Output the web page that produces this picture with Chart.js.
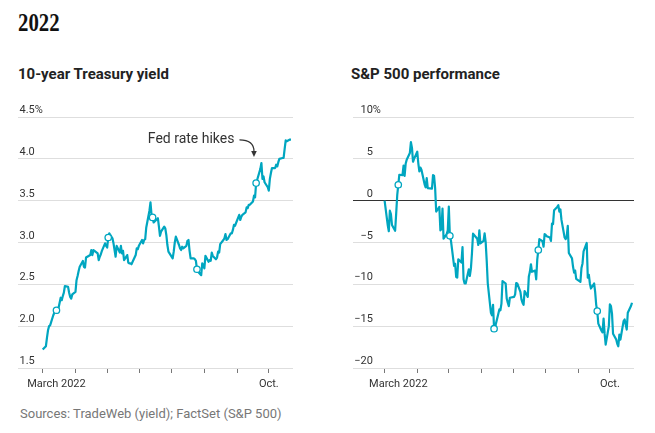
<!DOCTYPE html>
<html>
<head>
<meta charset="utf-8">
<script src="https://cdn.jsdelivr.net/npm/chart.js@4.4.1/dist/chart.umd.min.js"></script>
<style>
  html, body { margin: 0; padding: 0; background: #fff; }
  body { width: 655px; height: 433px; position: relative; overflow: hidden; font-family: Roboto, sans-serif; }
  .year { position: absolute; left: 18px; top: 10px; font: bold 26px "Liberation Serif", serif; line-height: 26px;
          color: #111; transform: scaleX(0.8); transform-origin: left top; }
  .sub { position: absolute; top: 67.4px; font: bold 15px Roboto, sans-serif; line-height: 15px; color: #222; }
  .src { position: absolute; left: 20px; top: 407.4px; font: 13px Roboto, sans-serif; line-height: 13px; color: #777; }
  canvas { position: absolute; }
</style>
</head>
<body>
<div class="year">2022</div>
<div class="sub" style="left:18px">10-year Treasury yield</div>
<div class="sub" style="left:351px">S&amp;P 500 performance</div>
<canvas id="yield" style="left:0;top:100px;width:310px;height:300px" width="310" height="300"></canvas>
<canvas id="spx" style="left:330px;top:100px;width:320px;height:300px" width="320" height="300"></canvas>
<div class="src">Sources: TradeWeb (yield); FactSet (S&amp;P 500)</div>

<script>
// x = days counted from the first trading day shown (the "March 2022" tick)
const days = [
  0, 3, 4, 5, 6, 7, 10, 11, 12, 13, 14, 17, 18, 19, 20, 21, 24, 25, 26, 27,
  28, 31, 32, 33, 34, 35, 38, 39, 40, 41, 45, 46, 47, 48, 49, 52, 53, 54, 55, 56,
  59, 60, 61, 62, 63, 66, 67, 68, 69, 70, 73, 74, 75, 76, 77, 80, 81, 82, 83, 84, 88,
  89, 90, 91, 94, 95, 96, 97, 98, 101, 102, 103, 104, 105, 109, 110, 111, 112, 115, 116, 117, 118,
  119, 123, 124, 125, 126, 129, 130, 131, 132, 133, 136, 137, 138, 139, 140, 143, 144, 145, 146, 147,
  150, 151, 152, 153, 154, 157, 158, 159, 160, 161, 164, 165, 166, 167, 168, 171, 172, 173, 174, 175, 178, 179, 180,
  181, 182, 186, 187, 188, 189, 192, 193, 194, 195, 196, 199, 200, 201, 202, 203, 206, 207, 208, 209, 210,
  213, 214, 215, 216, 217, 220, 221, 222, 223, 224, 227, 228, 229, 230, 231, 234, 235
];

// 10-year Treasury yield, %
const yieldVals = [
  1.72, 1.76, 1.86, 1.95, 2.00, 2.01, 2.13, 2.16, 2.18, 2.19, 2.16, 2.34, 2.31, 2.36, 2.40, 2.48, 2.47, 2.40, 2.35, 2.33,
  2.38, 2.41, 2.55, 2.60, 2.66, 2.71, 2.78, 2.71, 2.70, 2.82, 2.85, 2.91, 2.85, 2.91, 2.90, 2.87, 2.79, 2.83, 2.86, 2.90,
  2.99, 2.96, 2.94, 3.06, 3.11, 3.05, 2.99, 2.91, 2.83, 2.96, 2.88, 2.96, 2.87, 2.90, 2.79, 2.85, 2.76, 2.75, 2.75, 2.74, 2.85,
  2.93, 2.92, 2.96, 3.03, 2.99, 3.03, 3.04, 3.18, 3.38, 3.48, 3.33, 3.30, 3.24, 3.29, 3.19, 3.08, 3.13, 3.19, 3.17, 3.09, 2.97,
  2.89, 2.81, 2.89, 3.00, 3.07, 2.97, 2.93, 2.91, 2.95, 2.93, 2.96, 3.02, 3.03, 2.90, 2.81, 2.81, 2.80, 2.78, 2.68, 2.65,
  2.61, 2.75, 2.73, 2.69, 2.84, 2.77, 2.79, 2.78, 2.88, 2.84, 2.80, 2.82, 2.89, 2.88, 2.98, 3.03, 3.05, 3.10, 3.03, 3.04, 3.11, 3.11, 3.15,
  3.21, 3.20, 3.33, 3.27, 3.31, 3.33, 3.36, 3.42, 3.41, 3.45, 3.45, 3.49, 3.56, 3.54, 3.71, 3.75, 3.88, 3.95, 3.76, 3.79, 3.72,
  3.66, 3.62, 3.76, 3.83, 3.89, 3.89, 3.93, 3.91, 3.96, 4.00, 4.01, 4.01, 4.12, 4.22, 4.21, 4.23, 4.23
];

// S&P 500, % change from the first day
const spxVals = [
  0, -2.95, -3.65, -1.2, -1.6, -2.9, -3.6, -1.55, 0.65, 1.9, 3.1, 3.05, 4.2, 2.95, 4.4, 4.9, 5.7, 7.0, 6.3, 4.65,
  5.0, 5.85, 4.5, 3.5, 3.95, 3.7, 1.95, 1.6, 2.7, 1.5, 1.45, 3.05, 2.95, 1.5, -1.3, -0.75, -3.55, -3.4, -0.95, -4.55,
  -4.0, -3.55, -0.7, -4.2, -4.75, -7.8, -7.55, -9.1, -9.2, -7.0, -7.4, -5.55, -9.4, -9.9, -9.9, -8.2, -9.0, -8.1, -6.25, -3.95, -4.55,
  -5.3, -3.55, -5.1, -4.8, -3.9, -4.95, -7.2, -9.9, -13.4, -13.7, -12.45, -15.3, -15.1, -13.0, -13.1, -12.3, -9.6, -9.9, -11.7, -12.2, -12.6,
  -11.6, -11.5, -11.2, -9.85, -9.9, -10.9, -11.8, -12.2, -12.45, -10.8, -11.5, -9.05, -8.5, -7.6, -8.5, -8.35, -9.4, -7.05, -5.9, -4.6,
  -4.85, -5.5, -4.0, -4.1, -4.25, -4.4, -4.8, -2.75, -2.8, -1.15, -0.75, -0.55, -1.3, -1.05, -2.3, -4.4, -4.6, -4.3, -3.0, -6.25, -6.9, -7.9, -8.6,
  -8.35, -9.35, -9.7, -8.05, -7.5, -6.05, -5.05, -9.2, -8.85, -9.9, -10.5, -9.9, -10.9, -12.45, -13.2, -14.7, -15.55, -15.75, -14.1, -15.9, -17.2,
  -15.0, -12.4, -12.6, -13.5, -15.9, -16.6, -17.1, -17.4, -16.0, -16.6, -14.4, -14.2, -14.8, -15.4, -13.4, -12.6, -12.2
];

// day after each Fed rate hike
const fedDays = [13, 62, 104, 146, 202];

const tickDays = [0, 31, 61, 92, 122, 153, 184, 214];
const tickLabels = ['March 2022', '', '', '', '', '', '', 'Oct.'];

const yieldTicks = [1.5, 2.0, 2.5, 3.0, 3.5, 4.0, 4.5];
const spxTicks = [-20, -15, -10, -5, 0, 5, 10];

const TEAL = '#00a6c0';
const INK = '#333';

const axisText = {
  id: 'axisText',
  afterDraw(chart, args, o) {
    const { ctx, chartArea: a, scales: { x, y } } = chart;
    ctx.save();
    ctx.fillStyle = INK;
    ctx.font = '11px Roboto, sans-serif';
    ctx.textBaseline = 'alphabetic';

    // y labels sit just above their gridline, right-aligned, "%" hangs out
    const txt = y.ticks.map(t => o.yFmt(t.value));
    const widest = Math.max(...txt.map(s => ctx.measureText(s).width));
    const xr = a.left + 1.5 + widest;
    y.ticks.forEach((t, i) => {
      const py = y.getPixelForValue(t.value) - 4;
      ctx.textAlign = 'right';
      ctx.fillText(txt[i], xr, py);
      if (t.value === y.max) {
        ctx.textAlign = 'left';
        ctx.fillText('%', xr, py);
      }
    });

    // x labels: first word centered on its tick
    const by = a.bottom + 18.5;
    tickDays.forEach((d, i) => {
      const s = tickLabels[i];
      if (!s) return;
      const px = x.getPixelForValue(d);
      const first = s.split(' ')[0];
      ctx.textAlign = 'left';
      ctx.fillText(s, px - ctx.measureText(first).width / 2, by);
    });

    // annotation
    if (o.note) {
      const n = o.note;
      ctx.font = '14px Roboto, sans-serif';
      ctx.textAlign = 'right';
      const tx = x.getPixelForValue(n.x), ty = y.getPixelForValue(n.y);
      ctx.fillText(n.text, tx, ty);
      const sx = tx + 5, sy = ty - 3;
      ctx.strokeStyle = INK;
      ctx.lineWidth = 1.2;
      ctx.beginPath();
      ctx.moveTo(sx, sy);
      ctx.quadraticCurveTo(sx + 14.5, sy, sx + 14.5, sy + 11.5);
      ctx.stroke();
      ctx.beginPath();
      ctx.moveTo(sx + 14.5, sy + 17);
      ctx.lineTo(sx + 11.7, sy + 11);
      ctx.lineTo(sx + 17.3, sy + 11);
      ctx.closePath();
      ctx.fill();
    }
    ctx.restore();
  }
};

function makeChart(id, vals, yTicks, xMin, padLeft, padRight, textOpts, zeroLine) {
  const fed = new Set(fedDays);
  return new Chart(document.getElementById(id), {
    type: 'line',
    data: {
      datasets: [{
        data: days.map((d, i) => ({ x: d, y: vals[i] })),
        borderColor: TEAL,
        borderWidth: 2.2,
        borderJoinStyle: 'round',
        tension: 0,
        pointRadius: ctx => (fed.has(days[ctx.dataIndex]) ? 3.2 : 0),
        pointBackgroundColor: '#fff',
        pointBorderColor: TEAL,
        pointBorderWidth: 1.3,
        pointHoverRadius: 0
      }]
    },
    options: {
      responsive: false,
      animation: false,
      events: [],
      layout: { padding: { left: padLeft, right: padRight, top: 17, bottom: 27 } },
      plugins: { legend: { display: false }, tooltip: { enabled: false }, axisText: textOpts },
      scales: {
        x: {
          type: 'linear', min: xMin, max: 236.9,
          afterBuildTicks: s => { s.ticks = tickDays.map(v => ({ value: v })); },
          ticks: { display: false },
          grid: { drawOnChartArea: false, drawTicks: true, tickLength: 5, color: '#777', lineWidth: 1 },
          border: { display: false }
        },
        y: {
          min: yTicks[0], max: yTicks[yTicks.length - 1],
          afterBuildTicks: s => { s.ticks = yTicks.map(v => ({ value: v })); },
          ticks: { display: false },
          grid: {
            drawTicks: false,
            color: c => (zeroLine && c.tick && c.tick.value === 0 ? '#333' : '#dedede'),
            lineWidth: 1
          },
          border: { display: false }
        }
      }
    },
    plugins: [axisText]
  });
}

makeChart('yield', yieldVals, yieldTicks, -23.4, 18, 17, {
  yFmt: v => v.toFixed(1),
  note: { text: 'Fed rate hikes', x: 181.5, y: 4.19 }
}, false);

makeChart('spx', spxVals, spxTicks, -30.3, 22.7, 16, {
  yFmt: v => (v < 0 ? '\u2212' : '') + Math.abs(v)
}, true);
</script>
</body>
</html>
